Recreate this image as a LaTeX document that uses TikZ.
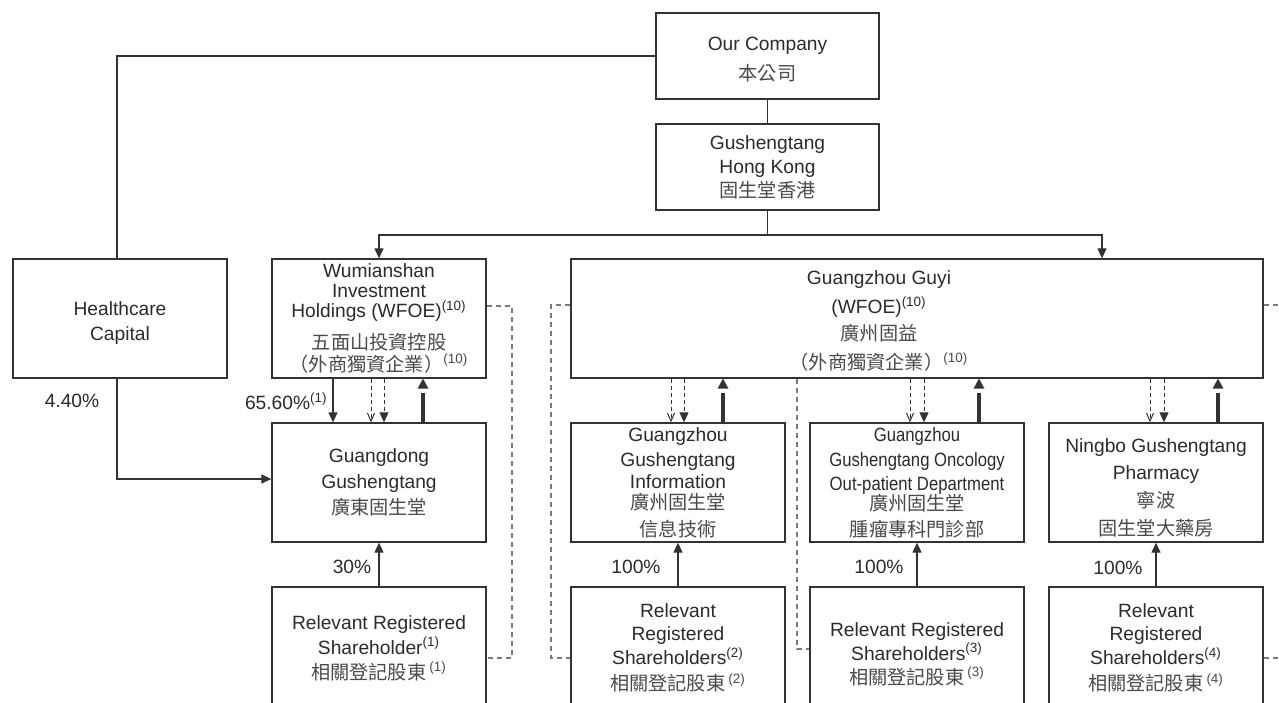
\documentclass[tikz,border=0pt]{standalone}
\usepackage{fontspec}
\setmainfont{Liberation Sans}
\newfontfamily\cjk{Noto Sans CJK TC}
\newfontfamily\cond{Liberation Sans}[FakeStretch=0.87]
\usetikzlibrary{arrows.meta,calc}
\definecolor{txt}{HTML}{2B2B2B}
\definecolor{zhc}{HTML}{4A4A4A}
\definecolor{ln}{HTML}{333333}
\definecolor{dg}{HTML}{7A7A7A}
\newcommand\zh[1]{{\cjk\color{zhc}#1}}
\newcommand\supn[1]{\textsuperscript{#1}}
\newcommand\zsup[1]{{\color{zhc}\textsuperscript{#1}}}
\newcommand\ctrlset[5]{%
  \draw[dshopen] (#1.south -| #3,0) -- (#2.north -| #3,0);
  \draw[dsharr] (#1.south -| #4,0) -- (#2.north -| #4,0);
  \draw[thickshaft] (#2.north -| #5,0) -- ($(#1.south -| #5,0)+(0,14)$);
  \fill[ln] (#1.south -| #5,0) -- ++(-5.5,10) -- ++(11,0) -- cycle;}
\begin{document}
\begin{tikzpicture}[x=0.5pt,y=-0.5pt,
  box/.style={draw=ln, line width=0.65pt, inner sep=0pt, align=center, text=txt,
    font=\fontsize{9.6pt}{12pt}\selectfont},
  lbl/.style={inner sep=0pt, align=center, text=txt, font=\fontsize{9.6pt}{12pt}\selectfont},
  conn/.style={draw=ln, line width=0.6pt},
  arr/.style={conn, -{Triangle[width=4.5pt,length=5pt]}},
  dsh/.style={draw=ln, line width=0.5pt, dash pattern=on 2pt off 1.5pt},
  dsharr/.style={dsh, -{Triangle[width=4.5pt,length=5pt]}},
  dshopen/.style={dsh, -{Straight Barb[width=3.5pt,length=4pt,line width=0.5pt]}},
  thickshaft/.style={draw=ln, line width=2.2pt},
  gdash/.style={draw=dg, line width=0.6pt, dash pattern=on 2.5pt off 2pt}]
\useasboundingbox (0,0) rectangle (1279,702);
\fill[white] (0,0) rectangle (1279,702);
\clip (0,0) rectangle (1279,702);

% boxes
\node[box, minimum width=111.5pt, minimum height=43pt] (OC) at (767.5,56) {\rule{0pt}{10pt}Our Company\\[3pt]\zh{本公司}};
\node[box, minimum width=111.5pt, minimum height=43pt] (HK) at (767.5,167) {Gushengtang\\Hong Kong\\\zh{固生堂香港}};
\node[box, minimum width=107pt, minimum height=59.5pt] (HC) at (120,318.5) {\rule{0pt}{11pt}Healthcare\\[0.5pt]Capital};
\node[box, minimum width=107pt, minimum height=59.5pt, font=\fontsize{9.6pt}{10pt}\selectfont] (WM) at (379,318.5)
  {Wumianshan\\Investment\\Holdings (WFOE)\supn{(10)}\\[4.5pt]\zh{五面山投資控股}\\[1pt]\zh{（外商獨資企業）}\zsup{(10)}};
\node[box, minimum width=346pt, minimum height=59.5pt] (GY) at (917,318.5) {};
\node[lbl, font=\fontsize{9.6pt}{14pt}\selectfont] (GYt) at (879,321)
  {Guangzhou Guyi\\[0.5pt](WFOE)\supn{(10)}\\[-0.5pt]\zh{廣州固益}\\[0.5pt]\zh{（外商獨資企業）}\zsup{(10)}};
\node[box, minimum width=107pt, minimum height=59.5pt] (GD) at (379,482.5) {Guangdong\\[1pt]Gushengtang\\[1pt]\zh{廣東固生堂}};
\node[box, minimum width=107pt, minimum height=59.5pt] (GI) at (678,482.5)
  {Guangzhou\\[0.5pt]Gushengtang\\[-1pt]Information\\[-1.5pt]\zh{廣州固生堂}\\[1.5pt]\zh{信息技術}};
\node[box, minimum width=107pt, minimum height=59.5pt] (ON) at (917,482.5)
  {{\cond Guangzhou}\\[0.5pt]{\cond Gushengtang Oncology}\\{\cond Out-patient Department}\\[-2pt]\zh{廣州固生堂}\\[1pt]\zh{腫瘤專科門診部}};
\node[box, minimum width=107pt, minimum height=59.5pt] (NB) at (1156,482.5)
  {\rule{0pt}{12pt}Ningbo Gushengtang\\[1.5pt]Pharmacy\\[2pt]\zh{寧波}\\[2pt]\zh{固生堂大藥房}};
\node[box, minimum width=107pt, minimum height=61pt] (R1) at (379,648)
  {Relevant Registered\\[0.5pt]Shareholder\supn{(1)}\\[0.5pt]\zh{相關登記股東}\,\zsup{(1)}};
\node[box, minimum width=107pt, minimum height=61pt] (R2) at (678,648)
  {Relevant\\[-0.5pt]Registered\\Shareholders\supn{(2)}\\[1pt]\zh{相關登記股東}\,\zsup{(2)}};
\node[box, minimum width=107pt, minimum height=67pt] (R3) at (917,654)
  {Relevant Registered\\Shareholders\supn{(3)}\\\zh{相關登記股東}\,\zsup{(3)}};
\node[box, minimum width=107pt, minimum height=61pt] (R4) at (1156,648)
  {Relevant\\[-0.5pt]Registered\\Shareholders\supn{(4)}\\[1pt]\zh{相關登記股東}\,\zsup{(4)}};

% labels
\node[lbl] (l440) at (72,401) {4.40\%};
\node[lbl, anchor=east] (l656) at (328,401) {65.60\%\supn{(1)}};
\node[lbl] (l30) at (352,567) {30\%};
\node[lbl] (l100a) at (636,567) {100\%};
\node[lbl] (l100b) at (879,567) {100\%};
\node[lbl] (l100c) at (1118,568) {100\%};

% top connectors
\coordinate (bus) at (767.5,235);
\draw[conn] (OC) -- (HK);
\draw[arr] (HK.south) -- (bus) -| (WM.north);
\draw[arr] (bus) -| (GY.north -| 1102,0);
\draw[conn] (OC.west) -| (HC.north -| 117,0);
\draw[arr] (HC.south -| 117,0) |- (GD.west |- 0,479);

% WM to GD
\draw[arr] (WM.south -| 333,0) -- (GD.north -| 333,0);
\ctrlset{WM}{GD}{371}{384}{423}
\ctrlset{GY}{GI}{671}{684}{723}
\ctrlset{GY}{ON}{910}{924}{979}
\ctrlset{GY}{NB}{1150}{1164}{1218}

% shareholders up
\draw[arr] (R1) -- (GD);
\draw[arr] (R2) -- (GI);
\draw[arr] (R3) -- (ON);
\draw[arr] (R4) -- (NB);

% grey dashed links
\draw[gdash] (WM.east |- 0,306) -- (512,306) |- (R1.east |- 0,658);
\draw[gdash] (GY.west |- 0,305) -- (551,305) |- (R2.west |- 0,658);
\draw[gdash] (GY.south -| 797,0) |- (R3.west |- 0,649);
\draw[gdash] (GY.east |- 0,305) -- (1295,305);
\draw[gdash] (R4.east |- 0,658) -- (1295,658);
\end{tikzpicture}
\end{document}
